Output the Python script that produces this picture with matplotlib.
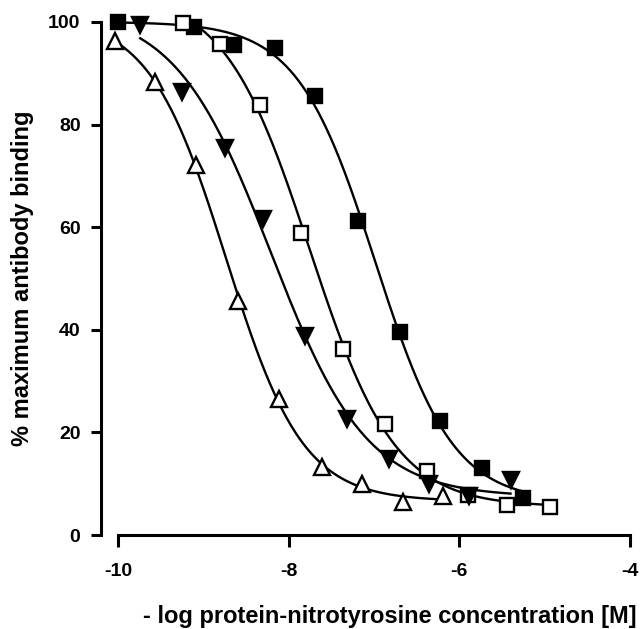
import numpy as np
import matplotlib
matplotlib.use("Agg")
import matplotlib.pyplot as plt

plt.rcParams['font.family'] = ['Liberation Sans', 'DejaVu Sans']
plt.rcParams['font.weight'] = 'bold'

# Filled squares
sq_fill_x = [-10.0, -9.11, -8.64, -8.16, -7.69, -7.19, -6.70, -6.23, -5.74, -5.25]
sq_fill_y = [100.0, 99.1, 95.6, 94.9, 85.5, 61.2, 39.6, 22.2, 13.0, 7.3]
# Open squares
sq_open_x = [-9.24, -8.81, -8.34, -7.85, -7.36, -6.87, -6.38, -5.90, -5.44, -4.94]
sq_open_y = [99.9, 95.8, 83.9, 58.9, 36.2, 21.6, 12.5, 7.8, 5.8, 5.4]
# Filled down-triangles
tri_fill_x = [-9.74, -9.25, -8.75, -8.30, -7.81, -7.32, -6.83, -6.36, -5.89, -5.40]
tri_fill_y = [99.4, 86.4, 75.4, 61.6, 38.7, 22.6, 14.9, 9.9, 7.6, 10.8]
# Open up-triangles
tri_open_x = [-10.04, -9.57, -9.09, -8.59, -8.11, -7.61, -7.14, -6.66, -6.19]
tri_open_y = [96.2, 88.4, 72.2, 45.6, 26.5, 13.2, 9.9, 6.4, 7.6]

x_ticks = [-10, -8, -6, -4]
y_ticks = [0, 20, 40, 60, 80, 100]


def fpl(x, p):
    top, bottom, c, h = p
    return bottom + (top - bottom) / (1.0 + 10.0 ** ((x - c) * h))


def fit_fpl(x, y):
    x = np.asarray(x, float)
    y = np.asarray(y, float)
    mid = (y.max() + y.min()) / 2
    p = np.array([y.max(), y.min(), x[np.argmin(np.abs(y - mid))], 1.0])
    lam = 1e-2
    for _ in range(500):
        r = y - fpl(x, p)
        J = np.zeros((len(x), 4))
        for k in range(4):
            dp = np.zeros(4)
            dp[k] = 1e-6 * max(1.0, abs(p[k]))
            J[:, k] = (fpl(x, p + dp) - fpl(x, p - dp)) / (2 * dp[k])
        A = J.T @ J
        g = J.T @ r
        step = np.linalg.solve(A + lam * np.diag(np.diag(A) + 1e-9), g)
        pn = p + step
        if np.sum((y - fpl(x, pn)) ** 2) < np.sum(r ** 2):
            p = pn
            lam *= 0.5
        else:
            lam *= 4
    return p


fig = plt.figure(figsize=(6.42, 6.29), dpi=100)
ax = fig.add_axes([118 / 642, 1 - 535 / 629, (630 - 118) / 642, (535 - 22) / 629])

series = [
    (sq_fill_x, sq_fill_y, 's', 'black', 10.5),
    (sq_open_x, sq_open_y, 's', 'white', 10.5),
    (tri_fill_x, tri_fill_y, 'v', 'black', 12),
    (tri_open_x, tri_open_y, '^', 'white', 11),
]

for xs, ys, m, fc, ms in series:
    p = fit_fpl(xs, ys)
    xx = np.linspace(min(xs), max(xs), 300)
    ax.plot(xx, fpl(xx, p), color='black', lw=1.7, zorder=2, clip_on=False)

for xs, ys, m, fc, ms in series:
    ax.plot(xs, ys, linestyle='none', marker=m, markersize=ms,
            markerfacecolor=fc, markeredgecolor='black', markeredgewidth=1.7,
            zorder=3, clip_on=False)

ax.set_xlim(-10, -4)
ax.set_ylim(0, 100)
ax.set_xticks(x_ticks)
ax.set_yticks(y_ticks)
ax.set_xticklabels([str(t) for t in x_ticks])
ax.set_yticklabels([str(t) for t in y_ticks])

for s in ['top', 'right']:
    ax.spines[s].set_visible(False)
ax.spines['left'].set_position(('outward', 12))
for s in ['left', 'bottom']:
    ax.spines[s].set_linewidth(2.2)
ax.tick_params(axis='x', direction='out', length=8.5, width=2.2, labelsize=14, pad=11.5)
ax.tick_params(axis='y', direction='out', length=7.5, width=2.2, labelsize=14, pad=7.5)
for lab in ax.get_xticklabels() + ax.get_yticklabels():
    lab.set_fontweight('bold')

ax.set_xlabel('- log protein-nitrotyrosine concentration [M]', fontsize=17,
              fontweight='bold')
ax.xaxis.set_label_coords((390 - 118) / 512, -(605 - 535) / 513)
ax.set_ylabel('% maximum antibody binding', fontsize=17, fontweight='bold')
ax.yaxis.set_label_coords(-(118 - 34) / 512, 0.5)

fig.savefig('out.png', dpi=100)
